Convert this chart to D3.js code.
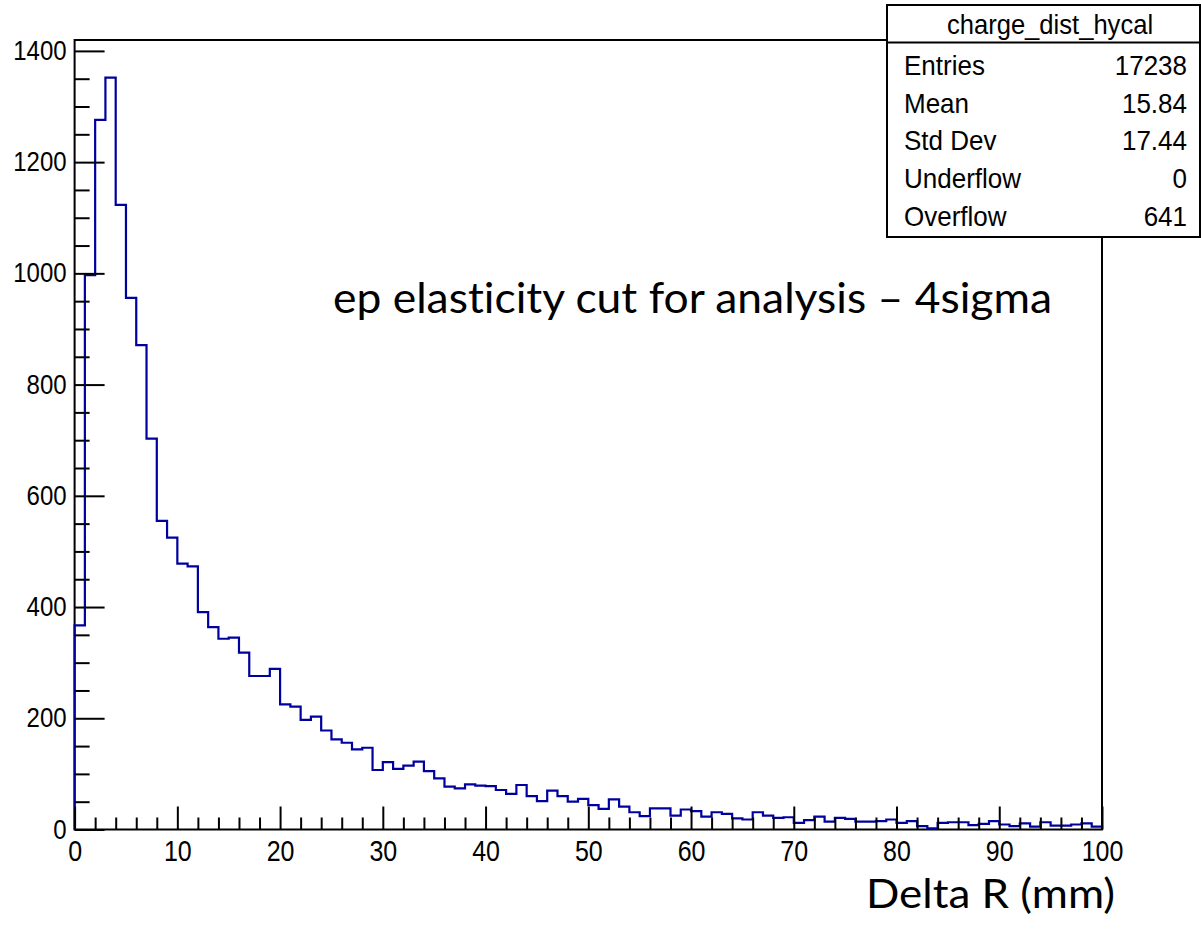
<!DOCTYPE html>
<html>
<head>
<meta charset="utf-8">
<script src="https://cdn.jsdelivr.net/npm/d3@7"></script>
<style>
  html, body { margin: 0; padding: 0; background: #fff; }
  svg { display: block; }
  .note { font-variant-ligatures: none; font-feature-settings: "liga" 0, "clig" 0; }
</style>
</head>
<body>
<svg id="chart" width="1201" height="944"></svg>
<script>
// Histogram range and per-bin counts (1 mm bins from 0 to 100)
const histRange = [0, 100];
const binCounts = [
  367, 997, 1276, 1352, 1123, 956, 871, 703, 555, 525,
  478, 473, 391, 364, 343, 345, 318, 276, 276, 289,
  225, 221, 197, 203, 178, 162, 156, 144, 147, 107,
  121, 109, 115, 122, 105, 92, 77, 74, 81, 79,
  78, 71, 64, 80, 60, 51, 70, 60, 50, 55,
  44, 37, 54, 41, 31, 24, 38, 38, 25, 36,
  33, 23, 31, 28, 20, 18, 31, 25, 21, 22,
  12, 17, 23, 14, 21, 19, 14, 14, 15, 18,
  12, 15, 6, 2, 12, 13, 13, 8, 10, 15,
  9, 6, 11, 5, 13, 7, 7, 9, 11, 5
];
const xMajorTicks = [0, 10, 20, 30, 40, 50, 60, 70, 80, 90, 100];
const yMajorTicks = [0, 200, 400, 600, 800, 1000, 1200, 1400];
const statsTitle = "charge_dist_hycal";
const statsLabels = ["Entries", "Mean", "Std Dev", "Underflow", "Overflow"];
const statsValues = ["17238", "15.84", "17.44", "0", "641"];
const noteText = "ep elasticity cut for analysis \u2013 4sigma";
const xTitle = "Delta R (mm)";

const svg = d3.select("#chart");
const frame = { left: 74.6, right: 1102, top: 40, bottom: 829.5 };

const binWidth = (histRange[1] - histRange[0]) / binCounts.length;
const yMax = d3.max(binCounts) * 1.05;

const x = d3.scaleLinear().domain(histRange).range([frame.left, frame.right]);
const y = d3.scaleLinear().domain([0, yMax]).range([frame.bottom, frame.top]);

// Frame
svg.append("rect")
  .attr("x", frame.left).attr("y", frame.top)
  .attr("width", frame.right - frame.left)
  .attr("height", frame.bottom - frame.top)
  .attr("fill", "none").attr("stroke", "#000").attr("stroke-width", 2);

// Step outline of the histogram
const pts = [[x(histRange[0]), y(0)]];
binCounts.forEach((c, i) => {
  const x0 = x(histRange[0] + i * binWidth);
  const x1 = x(histRange[0] + (i + 1) * binWidth);
  pts.push([x0, y(c)], [x1, y(c)]);
});
pts.push([x(histRange[1]), y(0)]);
svg.append("path")
  .attr("d", d3.line()(pts))
  .attr("fill", "none")
  .attr("stroke", "#00009e")
  .attr("stroke-width", 2.2)
  .attr("stroke-linejoin", "miter");

const tickFont = "'Liberation Sans', Arial, Helvetica, sans-serif";
const intFmt = d3.format("d");

// X axis: major ticks with labels, minor ticks every 2
const gx = svg.append("g").attr("transform", `translate(0,${frame.bottom})`);
gx.call(d3.axisBottom(x).tickValues(xMajorTicks).tickFormat(intFmt)
  .tickSize(-23).tickSizeOuter(0).tickPadding(0));
const gxm = svg.append("g").attr("transform", `translate(0,${frame.bottom})`);
gxm.call(d3.axisBottom(x)
  .tickValues(d3.range(0, 101, 2).filter(v => v % 10 !== 0))
  .tickSize(-12).tickSizeOuter(0).tickFormat(""));

gx.selectAll("text")
  .attr("y", 0).attr("dy", null)
  .attr("transform", "translate(0,31) scale(1,1.2)")
  .attr("font-family", tickFont).attr("font-size", 25).attr("fill", "#000");

// Y axis: major ticks with labels, minor ticks every 50
const gy = svg.append("g").attr("transform", `translate(${frame.left},0)`);
gy.call(d3.axisLeft(y).tickValues(yMajorTicks).tickFormat(intFmt)
  .tickSize(-30).tickSizeOuter(0).tickPadding(0));
const gym = svg.append("g").attr("transform", `translate(${frame.left},0)`);
gym.call(d3.axisLeft(y)
  .tickValues(d3.range(0, yMax, 50).filter(v => v % 200 !== 0))
  .tickSize(-15).tickSizeOuter(0).tickFormat(""));

gy.selectAll("text")
  .attr("x", 0).attr("dy", null).attr("y", 0)
  .attr("text-anchor", "end")
  .attr("transform", "translate(-8,8.5) scale(1,1.16)")
  .attr("font-family", tickFont).attr("font-size", 24).attr("fill", "#000");

[gx, gxm, gy, gym].forEach(g => {
  g.select(".domain").remove();
  g.selectAll(".tick line").attr("stroke", "#000").attr("stroke-width", 2);
});

// Statistics box
const box = { x: 887, y: 5, w: 313, h: 232, header: 42.6 };
svg.append("rect")
  .attr("x", box.x).attr("y", box.y).attr("width", box.w).attr("height", box.h)
  .attr("fill", "#fff").attr("stroke", "#000").attr("stroke-width", 2);
svg.append("line")
  .attr("x1", box.x).attr("x2", box.x + box.w)
  .attr("y1", box.header).attr("y2", box.header)
  .attr("stroke", "#000").attr("stroke-width", 2);

function stretchedText(px, py, str, anchor, size, sy) {
  return svg.append("text")
    .attr("transform", `translate(${px},${py}) scale(1,${sy})`)
    .attr("text-anchor", anchor)
    .attr("font-family", tickFont)
    .attr("font-size", size)
    .attr("fill", "#000")
    .text(str);
}

stretchedText(1050, 33.5, statsTitle, "middle", 25.6, 1.08);
const rowBase = [75, 113, 150, 187.5, 226];
statsLabels.forEach((lab, i) => {
  stretchedText(904, rowBase[i], lab, "start", 26, 1.08);
  stretchedText(1187, rowBase[i], statsValues[i], "end", 26, 1.08);
});

// Annotation and axis title
svg.append("text")
  .attr("class", "note")
  .attr("x", 333).attr("y", 313)
  .attr("font-family", "Lato, 'Open Sans', sans-serif")
  .attr("font-size", 43)
  .attr("textLength", 719).attr("lengthAdjust", "spacingAndGlyphs")
  .attr("fill", "#000")
  .text(noteText);

svg.append("text")
  .attr("class", "note")
  .attr("x", 866).attr("y", 908)
  .attr("font-family", "Lato, 'Open Sans', sans-serif")
  .attr("font-size", 40.5)
  .attr("textLength", 249).attr("lengthAdjust", "spacingAndGlyphs")
  .attr("fill", "#000")
  .text(xTitle);
</script>
</body>
</html>
